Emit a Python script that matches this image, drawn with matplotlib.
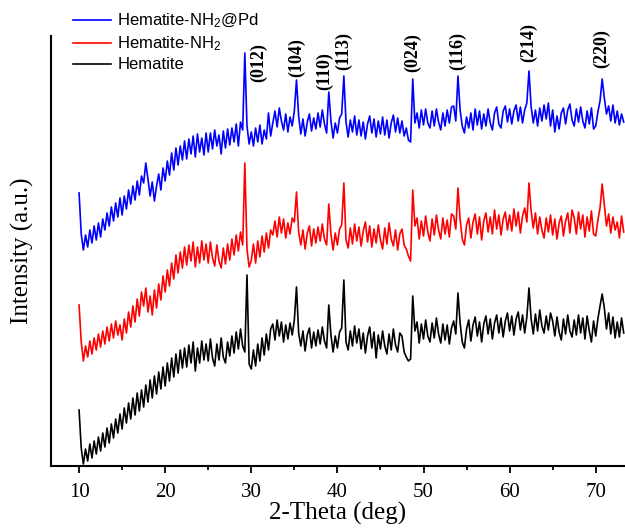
import numpy as np
import matplotlib
matplotlib.use("Agg")
import matplotlib.pyplot as plt
from matplotlib.ticker import MultipleLocator

# 2-theta scan grid (deg), step 0.25
two_theta = np.arange(254) * 0.25 + 10.0

# Intensities (a.u.), already offset for stacking
hematite_pd = [
    273, 232, 216, 231, 219, 236, 223, 240, 226, 243,
    229, 247, 236, 253, 240, 259, 245, 263, 249, 268,
    251, 270, 257, 276, 262, 280, 266, 285, 271, 290,
    283, 303, 287, 270, 284, 265, 280, 292, 276, 298,
    285, 305, 291, 313, 296, 318, 301, 320, 306, 325,
    307, 327, 312, 330, 309, 332, 314, 328, 311, 333,
    314, 333, 317, 336, 320, 331, 312, 335, 318, 337,
    321, 338, 324, 342, 320, 344, 336, 413, 340, 322,
    334, 320, 338, 324, 341, 322, 336, 327, 353, 330,
    343, 355, 339, 358, 345, 336, 352, 334, 349, 340,
    355, 386, 350, 332, 347, 330, 344, 352, 335, 348,
    337, 353, 339, 356, 342, 333, 374, 345, 328, 343,
    333, 348, 352, 390, 344, 329, 346, 334, 350, 331,
    346, 330, 344, 327, 342, 350, 333, 347, 329, 345,
    332, 349, 331, 346, 328, 343, 351, 334, 348, 333,
    345, 330, 338, 326, 324, 387, 343, 353, 338, 356,
    341, 357, 343, 338, 355, 340, 357, 344, 336, 353,
    340, 356, 343, 359, 360, 345, 390, 356, 340, 333,
    349, 338, 353, 336, 357, 341, 355, 337, 352, 340,
    357, 343, 336, 353, 359, 342, 338, 355, 360, 344,
    357, 342, 355, 361, 345, 359, 343, 356, 363, 395,
    359, 343, 356, 340, 358, 345, 361, 347, 363, 340,
    356, 334, 350, 337, 353, 358, 342, 356, 362, 346,
    340, 357, 344, 359, 345, 338, 355, 342, 358, 337,
    340, 354, 365, 387, 368, 352, 360, 345, 361, 343,
    355, 341, 352, 344,
]

hematite_nh2 = [
    161, 124, 105, 120, 109, 125, 112, 128, 116, 132,
    119, 135, 122, 139, 125, 142, 128, 145, 131, 141,
    126, 147, 133, 154, 139, 160, 144, 167, 150, 174,
    160, 178, 154, 170, 151, 176, 158, 182, 166, 190,
    174, 196, 180, 203, 187, 211, 193, 214, 198, 219,
    201, 221, 205, 224, 199, 219, 203, 225, 206, 222,
    203, 224, 208, 200, 221, 205, 198, 218, 202, 222,
    206, 227, 211, 231, 215, 234, 221, 303, 217, 199,
    206, 222, 203, 225, 209, 230, 214, 233, 218, 236,
    231, 245, 229, 249, 233, 247, 228, 243, 232, 248,
    244, 274, 234, 221, 236, 217, 233, 240, 220, 237,
    223, 239, 225, 242, 227, 221, 262, 232, 216, 233,
    221, 237, 241, 283, 226, 218, 238, 222, 242, 225,
    239, 220, 235, 244, 224, 240, 219, 237, 223, 241,
    226, 217, 238, 222, 243, 227, 220, 236, 216, 232,
    237, 221, 217, 210, 205, 276, 240, 248, 227, 245,
    230, 250, 234, 225, 247, 231, 251, 236, 227, 248,
    232, 246, 229, 252, 250, 237, 278, 247, 227, 221,
    241, 248, 228, 244, 252, 232, 249, 226, 245, 253,
    234, 249, 232, 256, 237, 251, 231, 247, 254, 236,
    251, 235, 257, 240, 254, 233, 250, 258, 244, 283,
    255, 238, 253, 232, 249, 236, 228, 248, 234, 251,
    231, 247, 227, 243, 250, 230, 245, 253, 233, 256,
    248, 232, 254, 237, 251, 229, 249, 235, 255, 232,
    230, 246, 258, 282, 261, 240, 252, 233, 249, 236,
    244, 228, 250, 234,
]

hematite = [
    56, 18, 2, 17, 5, 22, 8, 25, 12, 29,
    15, 33, 19, 38, 23, 42, 28, 47, 33, 52,
    37, 58, 43, 63, 47, 68, 51, 73, 55, 76,
    59, 81, 64, 86, 68, 90, 72, 94, 77, 99,
    80, 103, 85, 108, 89, 112, 93, 116, 98, 118,
    99, 121, 103, 124, 95, 118, 103, 125, 106, 122,
    105, 127, 108, 100, 122, 106, 128, 109, 103, 124,
    110, 130, 113, 134, 117, 137, 120, 114, 191, 102,
    97, 116, 100, 122, 105, 128, 111, 132, 116, 137,
    142, 126, 146, 130, 144, 124, 141, 127, 143, 131,
    146, 179, 133, 120, 135, 115, 131, 138, 118, 134,
    120, 136, 122, 139, 125, 118, 161, 131, 114, 130,
    118, 134, 138, 186, 124, 116, 135, 120, 140, 123,
    137, 117, 133, 113, 130, 139, 118, 134, 108, 131,
    117, 135, 120, 112, 132, 116, 137, 121, 114, 133,
    130, 114, 109, 105, 107, 170, 135, 144, 123, 142,
    127, 146, 130, 124, 143, 128, 148, 132, 123, 142,
    126, 141, 122, 138, 145, 132, 173, 143, 124, 118,
    137, 146, 125, 141, 149, 130, 144, 124, 142, 150,
    132, 147, 127, 143, 151, 133, 148, 129, 145, 153,
    135, 150, 131, 147, 154, 136, 151, 133, 149, 178,
    147, 132, 152, 135, 156, 140, 133, 150, 136, 153,
    145, 130, 149, 134, 126, 147, 132, 151, 135, 129,
    146, 131, 151, 133, 148, 127, 150, 135, 124, 145,
    130, 147, 160, 172, 158, 137, 153, 132, 149, 128,
    144, 129, 148, 133,
]

# Miller indices and where their labels sit
hkl_labels = ['(012)', '(104)', '(110)', '(113)', '(024)', '(116)', '(214)', '(220)']
hkl_x = [30.8, 35.3, 38.5, 40.7, 48.7, 54.0, 62.2, 70.7]
hkl_y = [384, 389, 376, 396, 394, 396, 404, 398]

plt.rcParams['mathtext.default'] = 'regular'

fig = plt.figure(figsize=(6.25, 5.28), dpi=100)
ax = fig.add_axes([51 / 625, 62 / 528, 574 / 625, 430 / 528])

ax.plot(two_theta, hematite_pd, color='#0000ff', lw=1.2, label='Hematite-NH$_2$@Pd')
ax.plot(two_theta, hematite_nh2, color='#ff0000', lw=1.2, label='Hematite-NH$_2$')
ax.plot(two_theta, hematite, color='black', lw=1.2, label='Hematite')

for lab, x, y in zip(hkl_labels, hkl_x, hkl_y):
    ax.text(x, y, lab, rotation=90, ha='center', va='bottom',
            family='Liberation Serif', fontweight='bold', fontsize=13)

ax.set_xlim(6.74, 73.4)
ax.set_ylim(0, 430)

for s in ['top', 'right']:
    ax.spines[s].set_visible(False)
for s in ['left', 'bottom']:
    ax.spines[s].set_linewidth(1.5)

ax.set_yticks([])
ax.xaxis.set_major_locator(MultipleLocator(10))
ax.xaxis.set_minor_locator(MultipleLocator(5))
ax.tick_params(axis='x', which='major', direction='out', length=5, width=1.3, pad=7)
ax.tick_params(axis='x', which='minor', direction='out', length=3, width=1.3)
for t in ax.get_xticklabels():
    t.set_family('Liberation Serif')
    t.set_fontsize(15)

ax.set_xlabel('2-Theta (deg)', family='Liberation Serif', fontsize=18, labelpad=0)
ax.set_ylabel('Intensity (a.u.)', family='Liberation Serif', fontsize=18, labelpad=12)

leg = ax.legend(loc='upper left', bbox_to_anchor=(73 / 625, 1 - 12 / 528),
                bbox_transform=fig.transFigure, frameon=False,
                prop={'family': 'Liberation Sans', 'size': 12},
                handlelength=2.3, handletextpad=0.35, labelspacing=0.25,
                borderpad=0, borderaxespad=0)

fig.savefig('out.png', dpi=100)
